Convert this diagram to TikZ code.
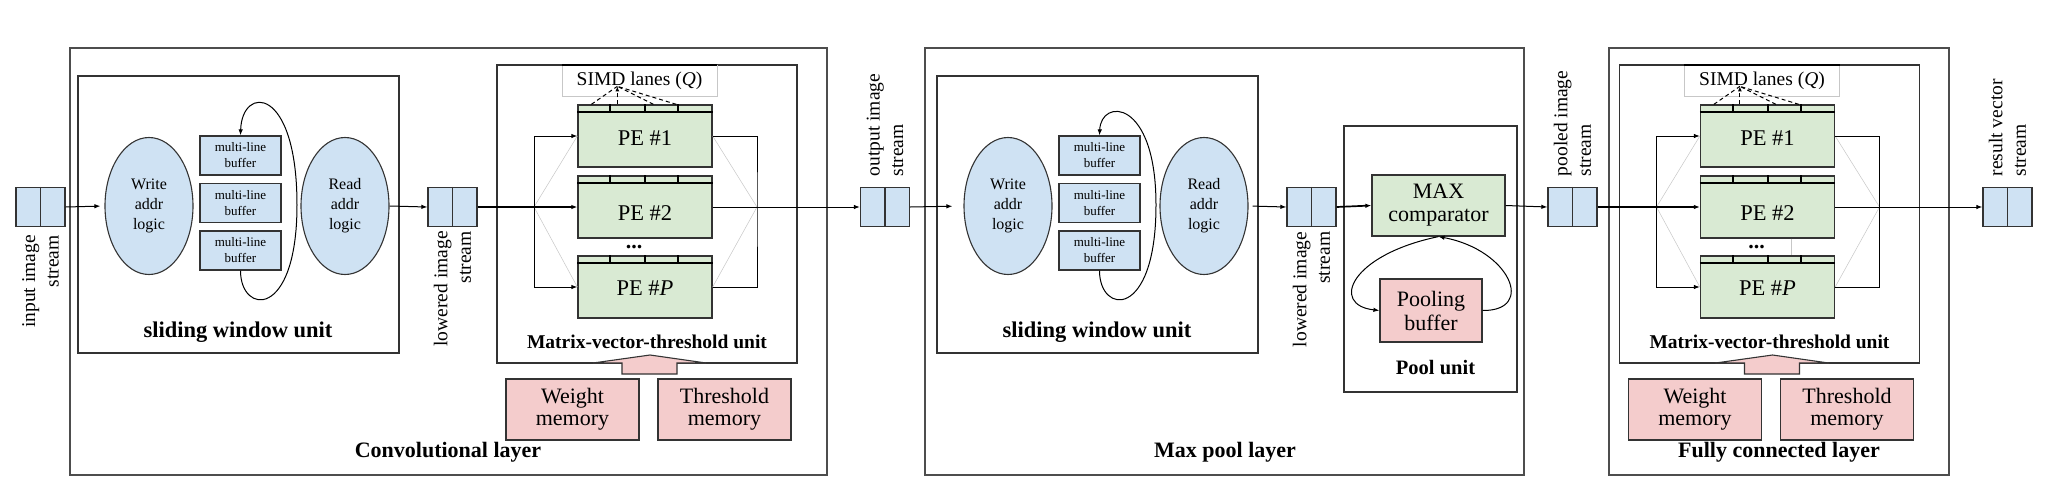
\documentclass[tikz,border=0pt]{standalone}
\usepackage{fontspec}
\setmainfont{Liberation Serif}
\usetikzlibrary{shapes.geometric,arrows.meta,calc}
\definecolor{cblue}{HTML}{CFE2F3}
\definecolor{cgreen}{HTML}{D9EAD3}
\definecolor{cpink}{HTML}{F4CCCC}
\definecolor{cline}{HTML}{333333}
\definecolor{cframe}{HTML}{4D4D4D}
\newcommand\fsz[2]{\fontsize{#1pt}{#2pt}\selectfont}

\tikzset{
 layerbox/.style={draw=cframe, line width=1.5pt, inner sep=0pt},
 unitbox/.style={draw=cline, line width=1.2pt, inner sep=0pt},
 layerlabel/.style={font=\fsz{22}{26}\bfseries, inner sep=0pt},
 swlabel/.style={font=\fsz{22.5}{26}\bfseries, inner sep=0pt},
 mvlabel/.style={font=\fsz{19.5}{23}\bfseries, inner sep=0pt},
 pulabel/.style={font=\fsz{20.5}{24}\bfseries, inner sep=0pt},
 addr/.style={ellipse, draw=cline, fill=cblue, line width=1.1pt, minimum width=88pt, minimum height=137pt, inner sep=0pt, align=center, font=\fsz{16}{20}},
 buf/.style={draw=cline, fill=cblue, line width=1.3pt, minimum width=81pt, minimum height=39pt, inner sep=0pt, align=center, font=\fsz{13}{16}},
 sbox/.style={draw=cline, fill=cblue, line width=1.2pt, minimum width=49pt, minimum height=39pt, inner sep=0pt},
 slabel/.style={rotate=90, inner sep=0pt, font=\fsz{19.5}{23.5}},
 pebox/.style={draw=cline, fill=cgreen, line width=1.3pt, minimum width=134pt, minimum height=62pt, inner sep=0pt},
 petext/.style={inner sep=0pt, font=\fsz{22.5}{26}},
 simdbox/.style={draw=black!22, fill=white, line width=0.6pt, minimum width=155pt, minimum height=31pt, inner sep=0pt, font=\fsz{19.5}{23}},
 mem/.style={draw=cline, fill=cpink, line width=1.2pt, minimum width=133pt, minimum height=61pt, inner sep=0pt, align=center, font=\fsz{22}{22}},
 maxbox/.style={draw=cline, fill=cgreen, line width=1.2pt, minimum width=133pt, minimum height=61pt, inner sep=0pt, align=center, font=\fsz{22}{23}},
 pbufbox/.style={draw=cline, fill=cpink, line width=1.2pt, minimum width=102pt, minimum height=63pt, inner sep=0pt, align=center, font=\fsz{22}{24}},
 flow/.style={draw=black, line width=1pt, -{Latex[length=6pt,width=4.5pt]}},
 bigflow/.style={flow, line width=1.7pt},
 plainline/.style={draw=black, line width=1pt},
 faint/.style={draw=black!22, line width=0.5pt},
 lanes/.style={draw=black, line width=1pt, dash pattern=on 4pt off 3pt},
 strip/.style={draw=black, line width=2pt},
 blockarrow/.style={draw=cline, fill=cpink, line width=1.1pt, line join=miter},
}

% sliding window unit: prefix, x shift, loop top control y
\newcommand\SWU[3]{%
 \node[unitbox, minimum width=321pt, minimum height=277pt] (#1box) at (#2+238.5,214.5) {};
 \node[swlabel] (#1lbl) at (#2+238,332) {sliding window unit};
 \node[addr] (#1wr) at (#2+149,206) {Write\\addr\\logic};
 \node[addr] (#1rd) at (#2+345,206) {Read\\addr\\logic};
 \node[buf] (#1b1) at (#2+240.5,155.5) {multi-line\\buffer};
 \node[buf] (#1b2) at (#2+240.5,203) {multi-line\\buffer};
 \node[buf] (#1b3) at (#2+240.5,250.5) {multi-line\\buffer};
 \coordinate (#1loop) at (#2+297,205);
 \draw[flow] (#1b3.south) .. controls (#2+240.5,315) and (#2+297,320) .. (#1loop) .. controls (#2+297,#3) and (#2+242,#3) .. (#1b1.north);
}

% matrix-vector-threshold unit: prefix, x shift
\newcommand\MVTU[2]{%
 \node[unitbox, minimum width=300pt, minimum height=298pt] (#1box) at (#2+647,214) {};
 \node[mvlabel] (#1lbl) at (#2+647,342) {Matrix-vector-threshold unit};
 \node[simdbox] (#1simd) at (#2+639.5,80.5) {SIMD lanes (\textit{Q})};
 \draw[strip] (#1simd.north west) -- (#1simd.north east);
 \node[pebox] (#1pe1) at (#2+645,136) {};
 \node[pebox] (#1pe2) at (#2+645,207) {};
 \node[pebox] (#1pep) at (#2+645,287) {};
 \foreach \p in {pe1,pe2,pep}{
   \draw[strip] ($(#1\p.north west)+(0,8)$) -- ($(#1\p.north east)+(0,8)$);
   \foreach \d in {33,68,101} \draw[line width=1.8pt] ($(#1\p.north west)+(\d,0)$) -- ++(0,8);
 }
 \node[petext] (#1t1) at (#2+645,138) {PE \#1};
 \node[petext] (#1t2) at (#2+645,213) {PE \#2};
 \node[petext] (#1tp) at (#2+645,288) {PE \#\textit{P}};
 \node[inner sep=0pt, font=\fsz{22}{26}\bfseries] (#1dots) at (#2+634,247) {...};
 \coordinate (#1lb) at (#2+534,207);
 \coordinate (#1rb) at (#2+757,207);
 \draw[faint] (#1pe1.west) -- (#1lb) -- (#1pep.west);
 \draw[faint] (#1pe1.east) -- (#1rb) -- (#1pep.east);
 \draw[flow] (#1lb) |- (#1pe1.west);
 \draw[flow] (#1lb) |- (#1pep.west);
 \draw[plainline] (#1pe1.east) -| (#1rb) |- (#1pep.east);
 \coordinate (#1apex) at ($(#1pe1.north west)+(40,-18)$);
 \foreach \d in {14,76,99} \draw[lanes] ($(#1pe1.north west)+(\d,0)$) -- (#1apex);
 \draw[lanes, -{Latex[length=5pt,width=4pt]}] ($(#1pe1.north west)+(40,0)$) -- (#1apex);
 \node[mem] (#1wm) at (#2+572.5,409.5) {Weight\\memory};
 \node[mem] (#1tm) at (#2+724.5,409.5) {Threshold\\memory};
 \draw[blockarrow] (#2+622,374) -- (#2+622,363) -- (#2+593,363) -- (#2+650,355) -- (#2+706,363) -- (#2+677,363) -- (#2+677,374) -- cycle;
}

\begin{document}
\begin{tikzpicture}[x=1pt,y=-1pt]
\fill[white] (0,0) rectangle (2054,496);
\useasboundingbox (0,0) rectangle (2054,496);

% layers
\node[layerbox, minimum width=757pt, minimum height=427pt] (conv) at (448.5,261.5) {};
\node[layerbox, minimum width=599pt, minimum height=427pt] (pool) at (1224.5,261.5) {};
\node[layerbox, minimum width=340pt, minimum height=427pt] (fc) at (1779,261.5) {};
\node[layerlabel] (convlbl) at (448,452) {Convolutional layer};
\node[layerlabel] (poollbl) at (1225,452) {Max pool layer};
\node[layerlabel] (fclbl) at (1779,452) {Fully connected layer};

% units
\SWU{c}{0}{85}
\MVTU{m}{0}
\SWU{p}{859}{98}
\MVTU{f}{1122.5}
\draw[faint] ($(fpe2.south)+(24,0)$) -- ($(fpep.north)+(24,0)$);

% pool unit
\node[unitbox, minimum width=173pt, minimum height=266pt] (punit) at (1430.5,259) {};
\node[pulabel] (punitlbl) at (1435.5,368) {Pool unit};
\node[maxbox] (max) at (1438.5,205.5) {MAX\\comparator};
\node[pbufbox] (pbuf) at (1431,310.5) {Pooling\\buffer};
\draw[flow] (max.south) .. controls (1350,255) and (1330,305) .. (pbuf.west);
\draw[flow] (pbuf.east) .. controls (1536,311) and (1510,250) .. (max.south);

% streams
\node[sbox] (in) at (40.5,207) {};
\node[sbox] (cl) at (452.5,207) {};
\node[sbox] (out) at (885,207) {};
\node[sbox] (pl) at (1311.5,207) {};
\node[sbox] (pooled) at (1572.5,207) {};
\node[sbox] (res) at (2007.5,207) {};
\foreach \s in {in,cl,out,pl,pooled,res} \draw[line width=1.2pt, cline] (\s.north) -- (\s.south);

\node[slabel, anchor=east, align=right] (inlbl) at ($(in.south)+(0,8)$) {input image\\stream};
\node[slabel, anchor=east, align=right] (cllbl) at ($(cl.south)+(0,4)$) {lowered image\\stream};
\node[slabel, anchor=east, align=right] (pllbl) at ($(pl.south)+(0,4.5)$) {lowered image\\stream};
\node[slabel, anchor=west, align=left] (outlbl) at ($(out.north)+(0,-10.5)$) {output image\\stream};
\node[slabel, anchor=west, align=left] (pooledlbl) at ($(pooled.north)+(0,-10.5)$) {pooled image\\stream};
\node[slabel, anchor=west, align=left] (reslbl) at ($(res.north)+(0,-10.5)$) {result vector\\stream};

% flow
\draw[flow, shorten >=4pt] (in.east) -- (cwr.west);
\draw[flow] (crd.east) -- (cl.west);
\draw[bigflow] (cl.east) -- (mpe2.west);
\draw[flow] (mpe2.east) -- (out.west);
\draw[flow, shorten >=11pt] (out.east) -- (pwr.west);
\draw[flow, shorten <=4pt] (prd.east) -- (pl.west);
\draw[bigflow] (pl.east) -- (max.west);
\draw[flow] (max.east) -- (pooled.west);
\draw[bigflow] (pooled.east) -- (fpe2.west);
\draw[flow] (fpe2.east) -- (res.west);
\end{tikzpicture}
\end{document}
